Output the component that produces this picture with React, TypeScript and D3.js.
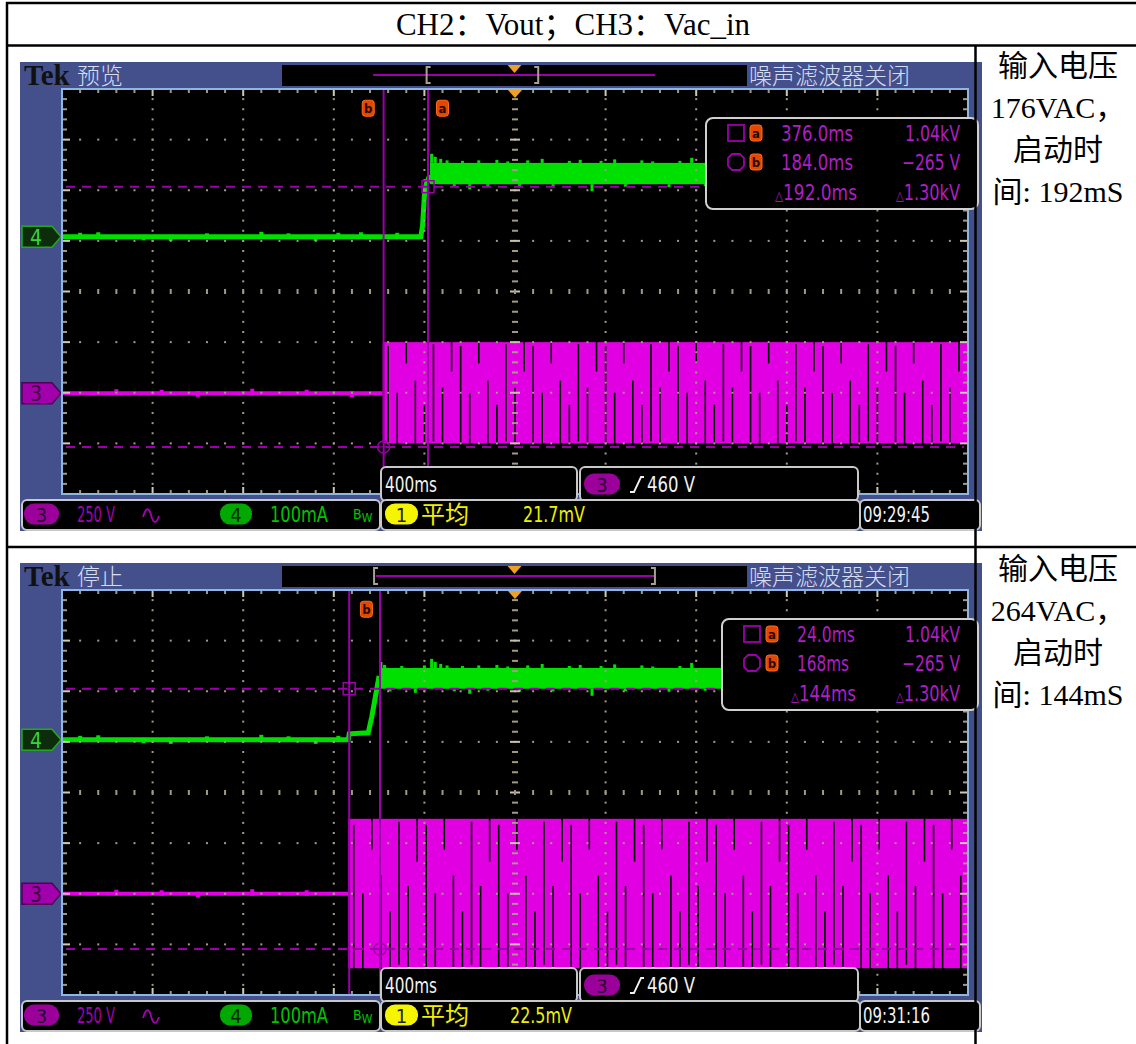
import React from 'react';
import * as d3 from 'd3';

// ---- text content ----
const headerTitle = 'CH2：Vout；CH3：Vac_in';
const scopeStates = ['预览', '停止'];
const inputVoltages = ['176VAC，', '264VAC，'];
const startupTimes = ['192mS', '144mS'];
const cursorATimes = ['376.0ms', '24.0ms'];
const cursorBTimes = ['184.0ms', '168ms'];
const deltaTimes = ['192.0ms', '144ms'];
const cursorAVolts = ['1.04kV', '1.04kV'];
const cursorBVolts = ['−265 V', '−265 V'];
const deltaVolts = ['1.30kV', '1.30kV'];
const ch1Means = ['21.7mV', '22.5mV'];
const clockTimes = ['09:29:45', '09:31:16'];
const timebase = '400ms';
const triggerLevel = '460 V';
const ch3Scale = '250 V';
const ch4Scale = '100mA';

// ---- traces, in screen divisions (x 0..10, y -4..4) ----
const ch4Rise = [
  [[0, 1.08], [3.96, 1.08], [3.98, 1.3], [4.0, 1.9], [4.02, 2.12], [4.06, 2.3]],
  [[0, 1.04], [3.16, 1.04], [3.17, 1.16], [3.38, 1.18], [3.42, 1.5], [3.47, 2.0], [3.5, 2.3]],
];
const ch4BandStart = [4.06, 3.5];
const ch4BandTop = [2.54, 2.46];
const ch4BandBottom = [2.12, 2.05];
// noise spikes on the high level: [time, amount] (+ above top, - below bottom)
const ch4BandSpikes = [
  [3.52, 0.12], [3.56, 0.06], [3.62, -0.05], [3.75, 0.04], [3.9, -0.08], [4.0, 0.05],
  [4.08, 0.18], [4.12, 0.12], [4.18, 0.08], [4.25, 0.05], [4.33, -0.05], [4.42, 0.04],
  [4.5, -0.1], [4.6, 0.05], [4.7, -0.04], [4.8, 0.06], [4.92, 0.03], [5.05, -0.06],
  [5.14, 0.05], [5.3, 0.08], [5.42, -0.05], [5.6, 0.04], [5.72, 0.06], [5.85, -0.14],
  [5.95, 0.04], [6.1, 0.07], [6.22, -0.05], [6.4, 0.05], [6.52, 0.03], [6.7, -0.06],
  [6.82, 0.04], [6.95, 0.1], [7.1, -0.04], [7.3, 0.05], [7.45, 0.04],
];
const ch4LowNoise = [
  [0.2, 0.04], [0.4, 0.05], [0.9, -0.03], [1.2, -0.04], [1.6, 0.03], [2.2, 0.06],
  [2.5, 0.03], [2.8, -0.04], [3.05, 0.04], [3.3, 0.05], [3.7, 0.04],
];

const ch3Level = [-2.01, -2.0];
const ch3AcStart = [3.54, 3.16];
const ch3EnvTop = [-1.0, -0.52];
const ch3EnvBottom = [-3.0, -3.47];
const ch3LowNoise = [[0.6, 0.04], [1.1, 0.03], [1.5, -0.03], [2.1, 0.05], [2.7, 0.03], [3.2, -0.04]];
// aliasing gaps in the 50 Hz envelope: spacing and [from, to] as fraction of envelope height
const ch3GapStep = 0.1;
const ch3GapPattern = [[0.04, 1], [0.5, 1], [0, 0.2], [0.38, 1], [0.62, 1], [0.02, 0.97], [0.45, 1], [0, 0.28]];

// cursors
const cursorAX = [4.04, 3.17];
const cursorBX = [3.55, 3.51];
const cursorALevel = [2.07, 2.05];
const cursorBLevel = [-3.07, -3.09];
const cursorBadges = [
  [{ letter: 'b', t: 3.38 }, { letter: 'a', t: 4.2 }],
  [{ letter: 'b', t: 3.36 }],
];
// record overview: shown span and zoom window, as fractions of record
const overviewSpan = [[0.196, 0.802], [0.202, 0.8]];
const overviewWindow = [[0.311, 0.551], [0.198, 0.802]];

// ---- layout ----
const W = 1136;
const H = 1044;
const SCOPE_Y = [62, 563];
const ROW_TOP = [45, 548];
const MEAS_BOX_X = [706, 722];

const SERIF = "'Liberation Serif','Times New Roman','Noto Sans CJK SC',serif";
const CJK = "'Noto Sans CJK SC',sans-serif";
const TEK = "'Liberation Sans Narrow','DejaVu Sans Condensed','Roboto Condensed','Liberation Sans',sans-serif";

const GREEN = '#00e000';
const MAGENTA = '#e100e1';
const CURSOR = '#9c00aa';
const MEAS = '#b01ec4';
const DOT = '#a39a86';

const TekText = ({ x, y, w, fill, size = 21, anchor = 'start', children }) => (
  <text x={x} y={y} textLength={w} lengthAdjust="spacingAndGlyphs" fill={fill}
    fontFamily={TEK} fontSize={size} textAnchor={anchor}>{children}</text>
);

const Badge = ({ x, y, letter }) => (
  <g>
    <rect x={x - 6} y={y - 8} width={12} height={16} rx={3} fill="#e24800" stroke="#ff6a20" strokeWidth={1} />
    <text x={x} y={y + 4.5} textAnchor="middle" fontFamily={TEK} fontWeight="bold" fontSize={13} fill="#2a0800">{letter}</text>
  </g>
);

const Pill = ({ x, y, w, fill, text, color }) => (
  <g>
    <rect x={x} y={y - 10.5} width={w} height={21} rx={10} fill={fill} />
    <text x={x + w / 2} y={y + 7.5} textAnchor="middle" fontFamily={TEK} fontSize={20} fill={color}>{text}</text>
  </g>
);

function Scope({ i }) {
  const oy = SCOPE_Y[i];
  const gl = 62, gr = 968, gt = oy + 27, gb = oy + 432;
  const x = d3.scaleLinear().domain([0, 10]).range([gl, gr]);
  const y = d3.scaleLinear().domain([-4, 4]).range([gb, gt]);
  const line = d3.line().x(d => x(d[0])).y(d => y(d[1]));

  const fineX = d3.range(0, 51).map(k => k / 5);
  const fineY = d3.range(-20, 21).map(k => k / 5);
  const isMajor = v => Math.abs(v - Math.round(v)) < 1e-6;

  // overview bar
  const ob = d3.scaleLinear().domain([0, 1]).range([282, 747]);

  // AC envelope gaps
  const acTop = y(ch3EnvTop[i]);
  const acBot = y(ch3EnvBottom[i]);
  const gaps = d3.range(ch3AcStart[i] + ch3GapStep * 0.6, 10, ch3GapStep);

  const boxTop = oy + 405;
  const cursorEnd = px => (px >= 381 && px <= 858 ? boxTop : gb);

  const mx = MEAS_BOX_X[i];
  const my = oy + 56;
  const rows = [oy + 71, oy + 100, oy + 130];
  const valRight = 960;

  const barY = oy + 438;
  const barMid = oy + 452;
  const trigX = x(5);
  const ch4Low = ch4Rise[i][0][1];

  return (
    <g>
      {/* frame */}
      <rect x={20} y={oy} width={962} height={469} fill="#44508c" />
      <text x={24} y={oy + 23} fontFamily={SERIF} fontWeight="bold" fontSize={29} fill="#111">Tek</text>
      <text x={77} y={oy + 22} fontFamily={CJK} fontSize={23} fontWeight={300} fill="#d6dcf2">{scopeStates[i]}</text>
      <rect x={282} y={oy + 3} width={465} height={21} fill="#000" />
      <line x1={ob(overviewSpan[i][0])} x2={ob(overviewSpan[i][1])} y1={oy + 13} y2={oy + 13} stroke={CURSOR} strokeWidth={2} />
      {overviewWindow[i].map((f, k) => (
        <path key={k} d={k === 0
          ? `M${ob(f) + 4},${oy + 5} h-4 v16 h4`
          : `M${ob(f) - 4},${oy + 5} h4 v16 h-4`}
          fill="none" stroke="#a8a090" strokeWidth={2} />
      ))}
      <path d={`M${ob(0.5) - 7},${oy + 3} h14 l-7,8 z`} fill="#f0a020" />
      <text x={749} y={oy + 22} fontFamily={CJK} fontSize={23} fontWeight={300} fill="#d6dcf2">噪声滤波器关闭</text>

      {/* graticule background */}
      <rect x={gl} y={gt} width={gr - gl} height={gb - gt} fill="#000" />

      {/* CH4 (green) */}
      <path d={line(ch4Rise[i])} fill="none" stroke={GREEN} strokeWidth={5} />
      {ch4LowNoise.filter(d => d[0] < ch4Rise[i][1][0]).map((d, k) => (
        <rect key={k} x={x(d[0]) - 2} width={4}
          y={Math.min(y(ch4Low + d[1]), y(ch4Low)) - 2}
          height={Math.abs(y(ch4Low + d[1]) - y(ch4Low)) + 4} fill={GREEN} />
      ))}
      <rect x={x(ch4BandStart[i])} y={y(ch4BandTop[i])} width={x(10) - x(ch4BandStart[i])}
        height={y(ch4BandBottom[i]) - y(ch4BandTop[i])} fill={GREEN} />
      {ch4BandSpikes.filter(d => d[0] > ch4BandStart[i]).map((d, k) => {
        const base = d[1] > 0 ? ch4BandTop[i] : ch4BandBottom[i];
        return <rect key={k} x={x(d[0]) - 1.5} width={3}
          y={Math.min(y(base), y(base + d[1]))} height={Math.abs(y(base + d[1]) - y(base))} fill={GREEN} />;
      })}

      {/* CH3 (magenta) */}
      <line x1={x(0)} x2={x(ch3AcStart[i])} y1={y(ch3Level[i])} y2={y(ch3Level[i])} stroke={MAGENTA} strokeWidth={4} />
      {ch3LowNoise.map((d, k) => (
        <rect key={k} x={x(d[0]) - 2} width={4}
          y={Math.min(y(ch3Level[i] + d[1]), y(ch3Level[i])) - 2}
          height={Math.abs(y(ch3Level[i] + d[1]) - y(ch3Level[i])) + 4} fill={MAGENTA} />
      ))}
      <rect x={x(ch3AcStart[i])} y={acTop} width={x(10) - x(ch3AcStart[i])} height={acBot - acTop} fill={MAGENTA} />
      {gaps.map((t, k) => {
        const p = ch3GapPattern[k % ch3GapPattern.length];
        return <rect key={k} x={x(t) - 0.8} y={acTop + p[0] * (acBot - acTop)} width={1.6}
          height={(p[1] - p[0]) * (acBot - acTop) + 1} fill="#000" />;
      })}

      {/* graticule dots and ticks */}
      {d3.range(1, 10).filter(k => k !== 5).map(k =>
        fineY.filter(v => Math.abs(v) < 4).map((v, j) => (
          <rect key={`v${k}-${j}`} x={x(k) - 1} y={y(v) - 1} width={2} height={2} fill={DOT} />
        )))}
      {d3.range(-3, 4).filter(k => k !== 0).map(k =>
        fineX.filter(v => v > 0 && v < 10).map((v, j) => (
          <rect key={`h${k}-${j}`} x={x(v) - 1} y={y(k) - 1} width={2} height={2} fill={DOT} />
        )))}
      {fineY.filter(v => Math.abs(v) < 4).map((v, j) => (
        <rect key={`cv${j}`} x={x(5) - (isMajor(v) ? 5 : 3)} y={y(v) - 1} width={isMajor(v) ? 10 : 6} height={2}
          fill={isMajor(v) ? '#c8c0ac' : DOT} />
      ))}
      {fineX.filter(v => v > 0 && v < 10).map((v, j) => (
        <rect key={`ch${j}`} x={x(v) - 1} y={y(0) - 2.5} width={2} height={5} fill={DOT} />
      ))}
      {fineX.map((v, j) => (
        <g key={`tb${j}`} fill={isMajor(v) ? '#cfc7b2' : DOT}>
          <rect x={x(v) - 1} y={gt} width={2} height={isMajor(v) ? 7 : 4} />
          <rect x={x(v) - 1} y={gb - (isMajor(v) ? 7 : 4)} width={2} height={isMajor(v) ? 7 : 4} />
        </g>
      ))}
      {fineY.map((v, j) => (
        <g key={`lr${j}`} fill={isMajor(v) ? '#cfc7b2' : DOT}>
          <rect x={gl} y={y(v) - 1} width={isMajor(v) ? 8 : 5} height={2} />
          <rect x={gr - (isMajor(v) ? 8 : 5)} y={y(v) - 1} width={isMajor(v) ? 8 : 5} height={2} />
        </g>
      ))}

      {/* cursors */}
      {[cursorALevel[i], cursorBLevel[i]].map((lv, k) => (
        <line key={k} x1={gl + 4} x2={gr - 4} y1={y(lv)} y2={y(lv)} stroke={CURSOR} strokeWidth={2} strokeDasharray="9 7" />
      ))}
      {[cursorAX[i], cursorBX[i]].map((t, k) => (
        <line key={k} x1={x(t)} x2={x(t)} y1={gt} y2={cursorEnd(x(t))} stroke={CURSOR} strokeWidth={2} />
      ))}
      <rect x={x(cursorAX[i]) - 6} y={y(cursorALevel[i]) - 6} width={12} height={12} fill="none" stroke={CURSOR} strokeWidth={1.5} />
      <circle cx={x(cursorBX[i])} cy={y(cursorBLevel[i])} r={6} fill="none" stroke={CURSOR} strokeWidth={1.5} />
      <path d={`M${x(cursorBX[i]) - 9},${y(cursorBLevel[i])} h18 M${x(cursorBX[i])},${y(cursorBLevel[i]) - 9} v18`}
        stroke={CURSOR} strokeWidth={1} />
      {cursorBadges[i].map((b, k) => <Badge key={k} x={x(b.t)} y={y(3.62)} letter={b.letter} />)}

      {/* channel ground markers */}
      <path d={`M22,${y(ch4Low) - 10.5} H52 L61,${y(ch4Low)} L52,${y(ch4Low) + 10.5} H22 Z`}
        fill="#0c2c0c" stroke="#22a822" strokeWidth={1.5} />
      <text x={36} y={y(ch4Low) + 8} textAnchor="middle" fontFamily={TEK} fontSize={21} fill="#3ad23a">4</text>
      <path d={`M22,${y(ch3Level[i]) - 10.5} H52 L61,${y(ch3Level[i])} L52,${y(ch3Level[i]) + 10.5} H22 Z`}
        fill="#a200aa" stroke="#500056" strokeWidth={1.5} />
      <text x={36} y={y(ch3Level[i]) + 8} textAnchor="middle" fontFamily={TEK} fontSize={21} fill="#3a0040">3</text>

      {/* graticule border + trigger position */}
      <rect x={gl} y={gt} width={gr - gl} height={gb - gt} fill="none" stroke="#8db6e3" strokeWidth={2} />
      <path d={`M${trigX - 7},${gt + 1} h14 l-7,8 z`} fill="#f0a020" />

      {/* measurement readout */}
      <rect x={mx} y={my} width={978 - mx} height={91} rx={7} fill="#000" stroke="#d0d0d0" strokeWidth={2} />
      <rect x={mx + 22} y={rows[0] - 8} width={16} height={16} fill="none" stroke={CURSOR} strokeWidth={1.8} />
      <path d={`M${mx + 26},${rows[1] - 8} h8 l4,4 v8 l-4,4 h-8 l-4,-4 v-8 z`} fill="none" stroke={CURSOR} strokeWidth={1.8} />
      <Badge x={mx + 50} y={rows[0]} letter="a" />
      <Badge x={mx + 50} y={rows[1]} letter="b" />
      <TekText x={mx + 75} y={rows[0] + 8} w={i === 0 ? 72 : 58} fill={MEAS}>{cursorATimes[i]}</TekText>
      <TekText x={mx + 75} y={rows[1] + 8} w={i === 0 ? 72 : 52} fill={MEAS}>{cursorBTimes[i]}</TekText>
      <TekText x={mx + 69} y={rows[2] + 8} w={i === 0 ? 82 : 65} fill={MEAS}>
        <tspan fontSize={13}>△</tspan>{deltaTimes[i]}
      </TekText>
      <TekText x={valRight} y={rows[0] + 8} w={55} fill={MEAS} anchor="end">{cursorAVolts[i]}</TekText>
      <TekText x={valRight} y={rows[1] + 8} w={58} fill={MEAS} anchor="end">{cursorBVolts[i]}</TekText>
      <TekText x={valRight} y={rows[2] + 8} w={64} fill={MEAS} anchor="end">
        <tspan fontSize={13}>△</tspan>{deltaVolts[i]}
      </TekText>

      {/* timebase / trigger readouts */}
      <rect x={381} y={boxTop} width={196} height={34} rx={5} fill="#000" stroke="#c8c8c8" strokeWidth={2} />
      <TekText x={385} y={oy + 430} w={52} fill="#f2f2f2">{timebase}</TekText>
      <rect x={580} y={boxTop} width={278} height={34} rx={5} fill="#000" stroke="#c8c8c8" strokeWidth={2} />
      <Pill x={584} y={oy + 422} w={36} fill="#9b009b" text="3" color="#2a0030" />
      <path d={`M630,${oy + 430} h4 l7,-15 h3`} fill="none" stroke="#f2f2f2" strokeWidth={1.8} />
      <TekText x={647} y={oy + 430} w={48} fill="#f2f2f2">{triggerLevel}</TekText>

      {/* bottom status bar */}
      <rect x={22} y={barY} width={358} height={30} rx={5} fill="#000" stroke="#c8c8c8" strokeWidth={2} />
      <rect x={381} y={barY} width={479} height={30} rx={5} fill="#000" stroke="#c8c8c8" strokeWidth={2} />
      <rect x={860} y={barY} width={120} height={30} rx={5} fill="#000" stroke="#c8c8c8" strokeWidth={2} />
      <Pill x={24} y={barMid} w={35} fill="#9b009b" text="3" color="#2a0030" />
      <TekText x={77} y={barMid + 8} w={38} fill="#a400b4">{ch3Scale}</TekText>
      <path d={`M143,${barMid + 3} c3,-10 6,-10 8,-2 c2,8 5,10 8,1`} fill="none" stroke="#a400b4" strokeWidth={1.8} />
      <Pill x={220} y={barMid} w={32} fill="#00a800" text="4" color="#002a00" />
      <TekText x={270} y={barMid + 8} w={58} fill="#00c400">{ch4Scale}</TekText>
      <text x={353} y={barMid + 5} fontFamily={TEK} fontSize={14} fill="#00c400">B<tspan fontSize={12} dy={3}>W</tspan></text>
      <Pill x={385} y={barMid} w={33} fill="#f5f500" text="1" color="#222" />
      <text x={421} y={barMid + 9} fontFamily={CJK} fontSize={24} fill="#f0f000">平均</text>
      <TekText x={i === 0 ? 523 : 510} y={barMid + 8} w={62} fill="#f0f000">{ch1Means[i]}</TekText>
      <TekText x={863} y={barMid + 8} w={67} fill="#f2f2f2">{clockTimes[i]}</TekText>
    </g>
  );
}

function SideNote({ i }) {
  const top = ROW_TOP[i];
  const lines = ['输入电压', inputVoltages[i], '启动时', `间: ${startupTimes[i]}`];
  return (
    <g>
      {lines.map((s, k) => (
        <text key={k} x={1058} y={top + 21 + k * 42} dy="0.34em" textAnchor="middle"
          fontFamily={SERIF} fontSize={30} fill="#000">{s}</text>
      ))}
    </g>
  );
}

export default function App() {
  return (
    <svg width={W} height={H} style={{ position: 'absolute', left: 0, top: 0, display: 'block' }}>
      <rect width={W} height={H} fill="#fff" />
      <text x={573} y={24} dy="0.34em" textAnchor="middle" fontFamily={SERIF} fontSize={31} fill="#000">{headerTitle}</text>
      {[0, 1].map(i => <Scope key={i} i={i} />)}
      {[0, 1].map(i => <SideNote key={i} i={i} />)}
      <g stroke="#000" strokeWidth={2.5}>
        <line x1={6} x2={W} y1={3} y2={3} />
        <line x1={6} x2={W} y1={45.5} y2={45.5} />
        <line x1={6} x2={W} y1={547} y2={547} />
        <line x1={7} x2={7} y1={2} y2={H} />
        <line x1={975.5} x2={975.5} y1={45} y2={H} />
      </g>
    </svg>
  );
}
